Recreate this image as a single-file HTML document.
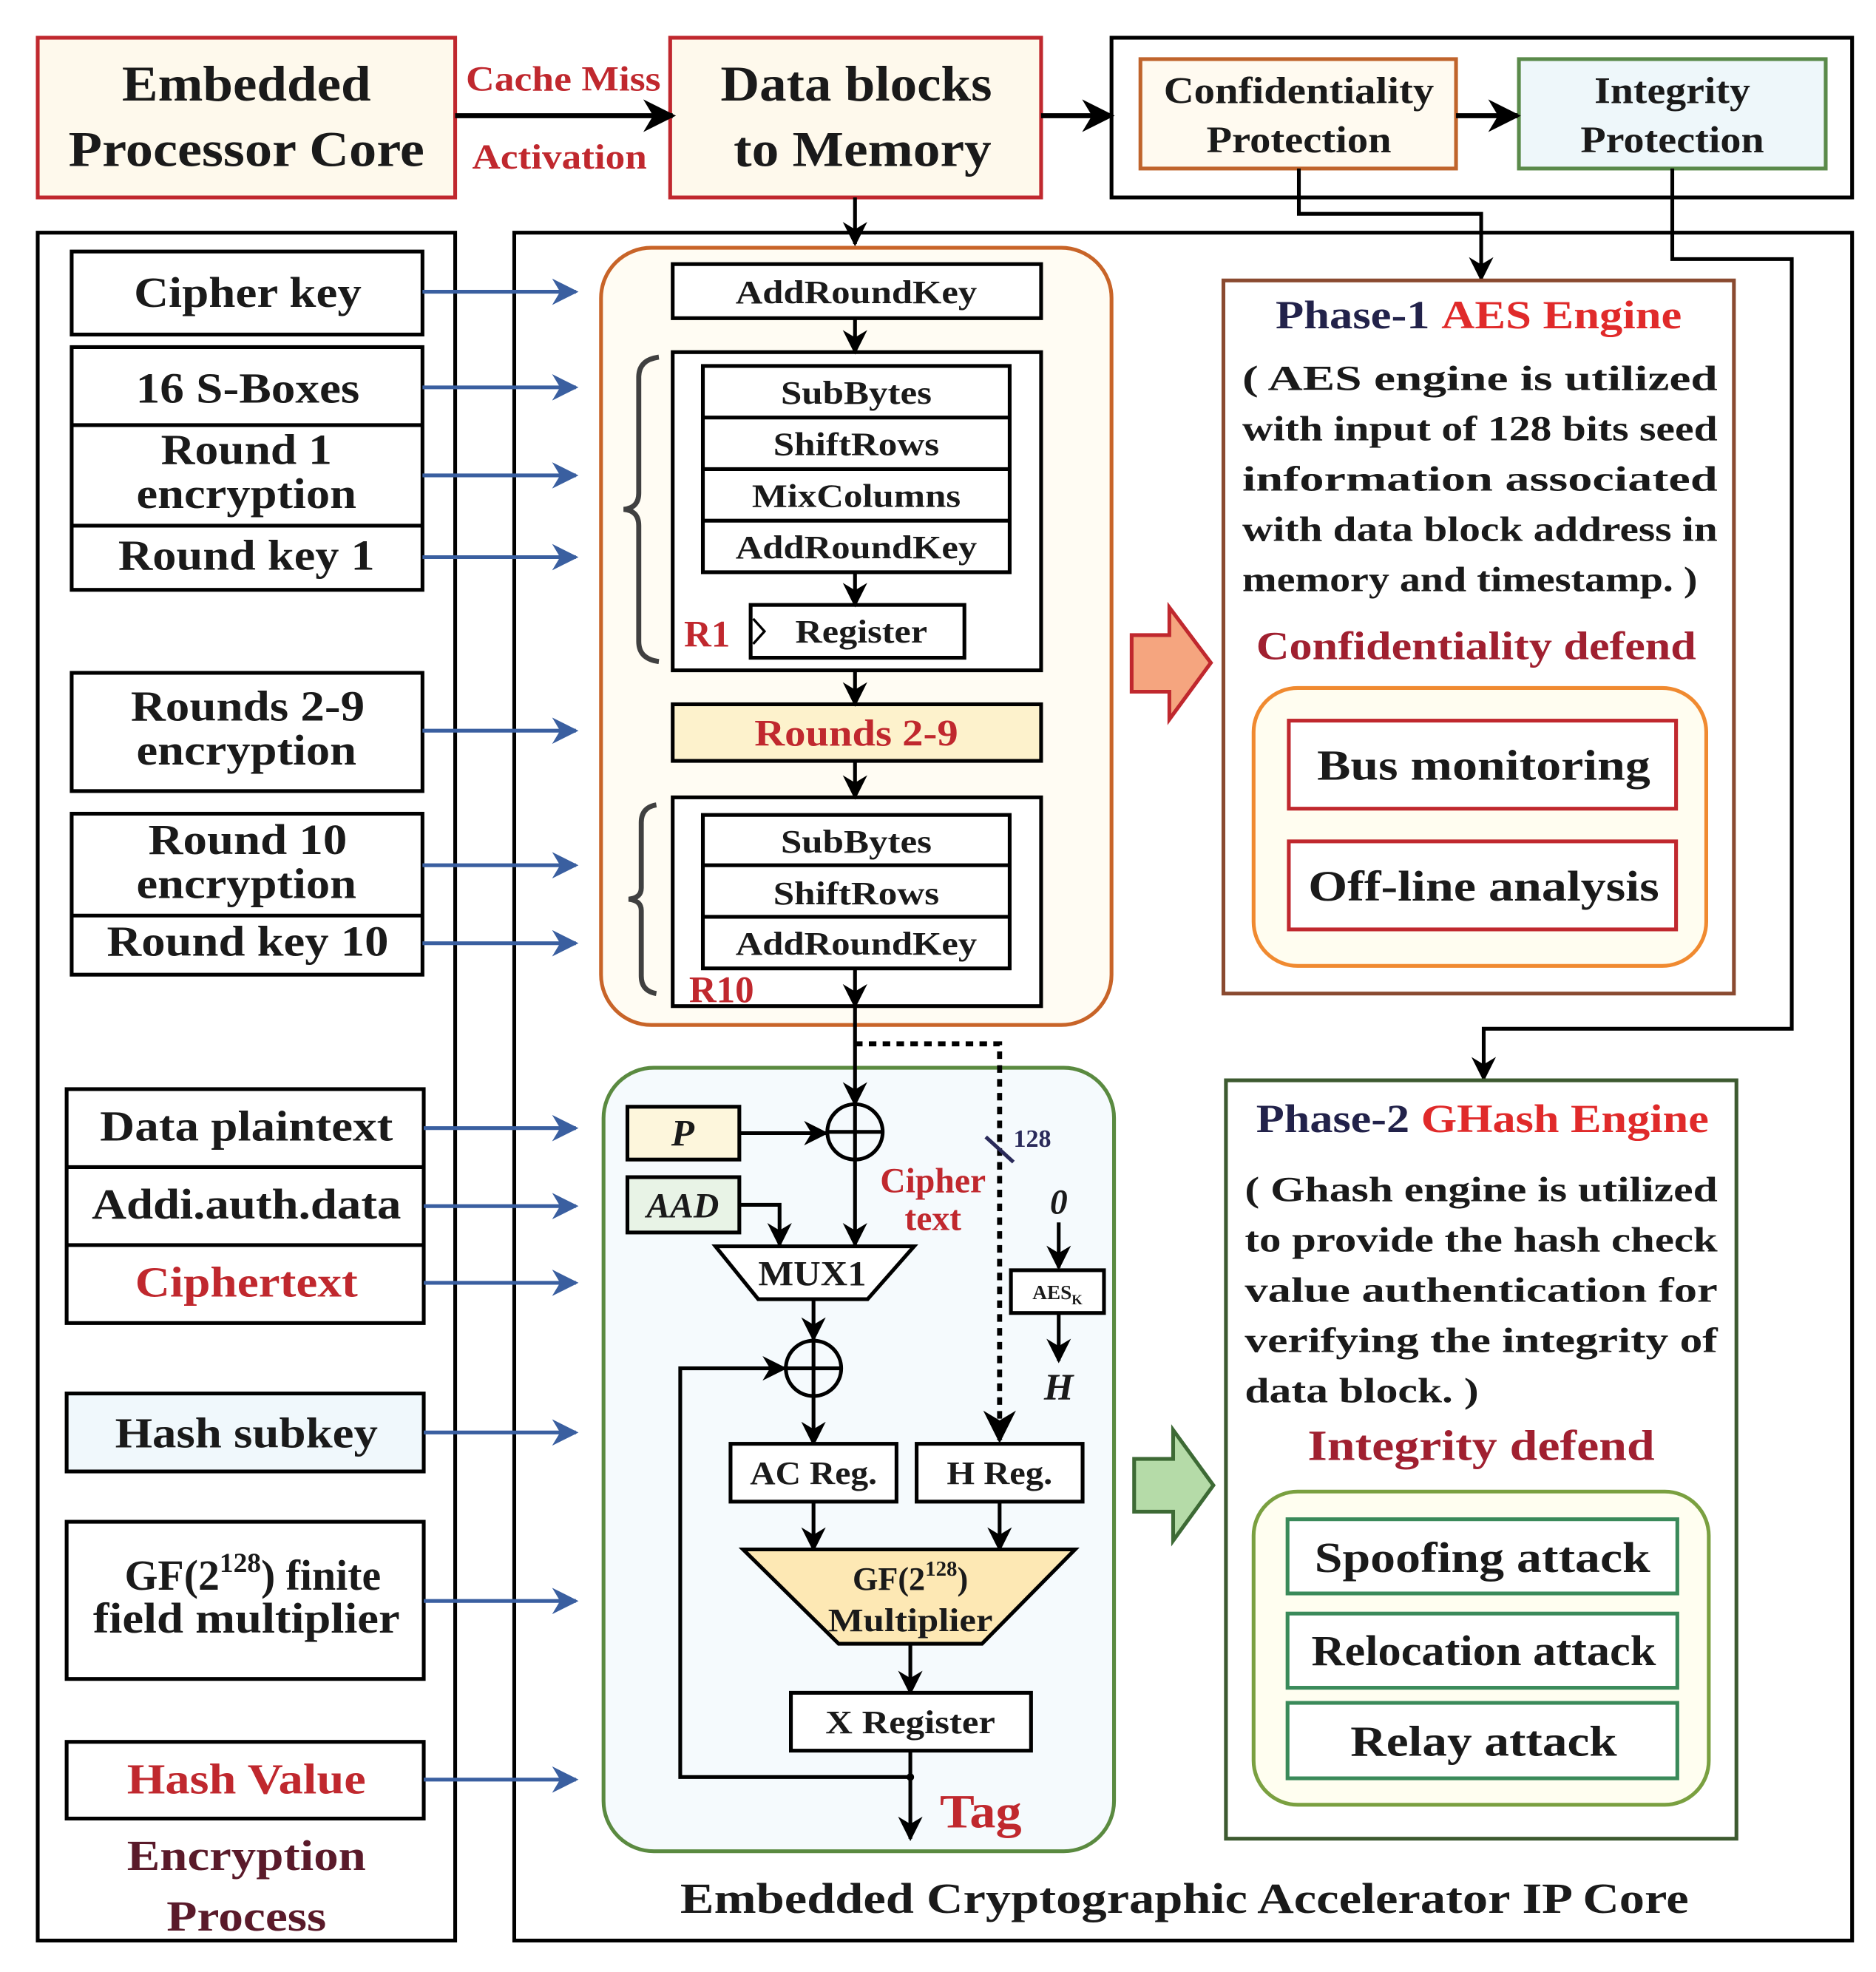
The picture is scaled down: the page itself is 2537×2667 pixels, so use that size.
<!DOCTYPE html>
<html><head><meta charset="utf-8"><style>html,body{margin:0;padding:0;background:#fff}svg{display:block}</style></head><body>
<svg width="2537" height="2667" viewBox="0 0 1492 1568" preserveAspectRatio="none" xmlns="http://www.w3.org/2000/svg" font-family="Liberation Serif, serif" font-weight="bold">
<defs>
<marker id="a" viewBox="0 0 10 10" refX="9" refY="5" markerWidth="6.5" markerHeight="6.5" orient="auto"><path d="M0,0L10,5L0,10L3,5z" fill="#000"/></marker>
<marker id="b" viewBox="0 0 10 10" refX="9" refY="5" markerWidth="7" markerHeight="7" orient="auto"><path d="M0,0L10,5L0,10L3,5z" fill="#3a5fa0"/></marker>
</defs>
<g fill="none" stroke="#000" stroke-width="3">
<rect x="884" y="30" width="589" height="127"/>
<rect x="30" y="185" width="332" height="1358"/>
<rect x="409" y="185" width="1064" height="1358"/>
</g>
<rect x="30" y="30" width="332" height="127" fill="#fef9ec" stroke="#c0282e" stroke-width="3"/>
<rect x="533" y="30" width="295" height="127" fill="#fef9ec" stroke="#c0282e" stroke-width="3"/>
<rect x="907" y="47" width="251" height="87" fill="#fffaf0" stroke="#c0642c" stroke-width="3"/>
<rect x="1208" y="47" width="244" height="87" fill="#eef7fa" stroke="#5a8a4a" stroke-width="3"/>
<g font-size="40" text-anchor="middle" fill="#1a1a1a">
<text x="196" y="80" textLength="198" lengthAdjust="spacingAndGlyphs">Embedded</text><text x="196" y="132" textLength="283" lengthAdjust="spacingAndGlyphs">Processor Core</text>
<text x="681" y="80" textLength="216" lengthAdjust="spacingAndGlyphs">Data blocks</text><text x="686" y="132" textLength="205" lengthAdjust="spacingAndGlyphs">to Memory</text>
</g>
<g font-size="30" text-anchor="middle" fill="#1a1a1a">
<text x="1033" y="82" textLength="215" lengthAdjust="spacingAndGlyphs">Confidentiality</text><text x="1033" y="121" textLength="147" lengthAdjust="spacingAndGlyphs">Protection</text>
<text x="1330" y="82" textLength="124" lengthAdjust="spacingAndGlyphs">Integrity</text><text x="1330" y="121" textLength="146" lengthAdjust="spacingAndGlyphs">Protection</text>
</g>
<g font-size="28" text-anchor="middle" fill="#c0282e"><text x="448" y="72" textLength="155" lengthAdjust="spacingAndGlyphs">Cache Miss</text><text x="445" y="134" textLength="139" lengthAdjust="spacingAndGlyphs">Activation</text></g>
<g stroke="#000" stroke-width="4" fill="none" marker-end="url(#a)">
<line x1="362" y1="92" x2="535" y2="92"/><line x1="828" y1="92" x2="884" y2="92"/><line x1="1158" y1="92" x2="1207" y2="92"/>
</g>
<g stroke="#000" stroke-width="3" fill="none" marker-end="url(#a)">
<line x1="680" y1="157" x2="680" y2="194"/>
<polyline points="1033,134 1033,170 1178,170 1178,222"/>
<polyline points="1330,134 1330,206 1425,206 1425,818 1180,818 1180,858"/>
</g>
<g fill="none" stroke="#000" stroke-width="3">
<rect x="57" y="200" width="279" height="66"/>
<rect x="57" y="276" width="279" height="193"/><line x1="57" y1="338" x2="336" y2="338"/><line x1="57" y1="418" x2="336" y2="418"/>
<rect x="57" y="535" width="279" height="94"/>
<rect x="57" y="647" width="279" height="128"/><line x1="57" y1="728" x2="336" y2="728"/>
<rect x="53" y="866" width="284" height="186"/><line x1="53" y1="928" x2="337" y2="928"/><line x1="53" y1="990" x2="337" y2="990"/>
<rect x="53" y="1108" width="284" height="62" fill="#f0f8fc"/>
<rect x="53" y="1210" width="284" height="125"/>
<rect x="53" y="1385" width="284" height="61"/>
</g>
<g font-size="34" text-anchor="middle" fill="#1a1a1a">
<text x="197" y="244" textLength="181" lengthAdjust="spacingAndGlyphs">Cipher key</text>
<text x="197" y="320" textLength="178" lengthAdjust="spacingAndGlyphs">16 S-Boxes</text>
<text x="196" y="369" textLength="136" lengthAdjust="spacingAndGlyphs">Round 1</text><text x="196" y="404" textLength="175" lengthAdjust="spacingAndGlyphs">encryption</text>
<text x="196" y="453" textLength="204" lengthAdjust="spacingAndGlyphs">Round key 1</text>
<text x="197" y="573" textLength="186" lengthAdjust="spacingAndGlyphs">Rounds 2-9</text><text x="196" y="608" textLength="175" lengthAdjust="spacingAndGlyphs">encryption</text>
<text x="197" y="679" textLength="158" lengthAdjust="spacingAndGlyphs">Round 10</text><text x="196" y="714" textLength="175" lengthAdjust="spacingAndGlyphs">encryption</text>
<text x="197" y="760" textLength="224" lengthAdjust="spacingAndGlyphs">Round key 10</text>
<text x="196" y="907" textLength="233" lengthAdjust="spacingAndGlyphs">Data plaintext</text>
<text x="196" y="969" textLength="246" lengthAdjust="spacingAndGlyphs">Addi.auth.data</text>
<text x="196" y="1031" fill="#c0282e" textLength="177" lengthAdjust="spacingAndGlyphs">Ciphertext</text>
<text x="196" y="1151" textLength="209" lengthAdjust="spacingAndGlyphs">Hash subkey</text>
<text x="201" y="1264">GF(2<tspan font-size="22" dy="-14">128</tspan><tspan dy="14">) finite</tspan></text>
<text x="196" y="1298" textLength="244" lengthAdjust="spacingAndGlyphs">field multiplier</text>
<text x="196" y="1426" fill="#c0282e" textLength="190" lengthAdjust="spacingAndGlyphs">Hash Value</text>
<text x="196" y="1487" fill="#5a1a2a" textLength="190" lengthAdjust="spacingAndGlyphs">Encryption</text>
<text x="196" y="1535" fill="#5a1a2a" textLength="127" lengthAdjust="spacingAndGlyphs">Process</text>
</g>
<g stroke="#3a5fa0" stroke-width="3" marker-end="url(#b)">
<line x1="336" y1="232" x2="458" y2="232"/><line x1="336" y1="308" x2="458" y2="308"/><line x1="336" y1="378" x2="458" y2="378"/><line x1="336" y1="443" x2="458" y2="443"/>
<line x1="336" y1="581" x2="458" y2="581"/><line x1="336" y1="688" x2="458" y2="688"/><line x1="336" y1="750" x2="458" y2="750"/>
<line x1="337" y1="897" x2="458" y2="897"/><line x1="337" y1="959" x2="458" y2="959"/><line x1="337" y1="1020" x2="458" y2="1020"/>
<line x1="337" y1="1139" x2="458" y2="1139"/><line x1="337" y1="1273" x2="458" y2="1273"/><line x1="337" y1="1415" x2="458" y2="1415"/>
</g>
<rect x="478" y="197" width="406" height="618" rx="40" fill="#fffcf3" stroke="#c86428" stroke-width="3"/>
<g fill="#fff" stroke="#000" stroke-width="3">
<rect x="535" y="210" width="293" height="43"/>
<rect x="535" y="280" width="293" height="253"/>
<rect x="559" y="291" width="244" height="164"/>
<rect x="597" y="481" width="170" height="42"/>
<rect x="535" y="560" width="293" height="45" fill="#fdf2cc"/>
<rect x="535" y="634" width="293" height="166"/>
<rect x="559" y="648" width="244" height="122"/>
</g>
<g stroke="#000" stroke-width="3"><line x1="559" y1="332" x2="803" y2="332"/><line x1="559" y1="373" x2="803" y2="373"/><line x1="559" y1="414" x2="803" y2="414"/><line x1="559" y1="688" x2="803" y2="688"/><line x1="559" y1="729" x2="803" y2="729"/></g>
<path d="M599,492 L608,502 L599,512" fill="none" stroke="#000" stroke-width="2"/>
<g font-size="26" text-anchor="middle" fill="#1a1a1a">
<text x="681" y="241" textLength="192" lengthAdjust="spacingAndGlyphs">AddRoundKey</text>
<text x="681" y="321" textLength="120" lengthAdjust="spacingAndGlyphs">SubBytes</text><text x="681" y="362" textLength="132" lengthAdjust="spacingAndGlyphs">ShiftRows</text><text x="681" y="403" textLength="166" lengthAdjust="spacingAndGlyphs">MixColumns</text><text x="681" y="444" textLength="192" lengthAdjust="spacingAndGlyphs">AddRoundKey</text>
<text x="685" y="511" textLength="105" lengthAdjust="spacingAndGlyphs">Register</text>
<text x="681" y="678" textLength="120" lengthAdjust="spacingAndGlyphs">SubBytes</text><text x="681" y="719" textLength="132" lengthAdjust="spacingAndGlyphs">ShiftRows</text><text x="681" y="759" textLength="192" lengthAdjust="spacingAndGlyphs">AddRoundKey</text>
</g>
<text x="681" y="593" font-size="30" text-anchor="middle" fill="#c0282e" textLength="162" lengthAdjust="spacingAndGlyphs">Rounds 2-9</text>
<text x="544" y="514" font-size="30" fill="#c0282e">R1</text>
<text x="548" y="797" font-size="30" fill="#c0282e">R10</text>
<g fill="none" stroke="#404040" stroke-width="4">
<path d="M524,284 Q508,286 508,300 L508,392 Q508,404 496,405 Q508,406 508,418 L508,510 Q508,524 524,526"/>
<path d="M522,640 Q510,642 510,654 L510,706 Q510,714 500,715 Q510,716 510,724 L510,776 Q510,788 522,790"/>
</g>
<g stroke="#000" stroke-width="3" marker-end="url(#a)">
<line x1="680" y1="253" x2="680" y2="280"/><line x1="680" y1="455" x2="680" y2="481"/><line x1="680" y1="533" x2="680" y2="560"/><line x1="680" y1="605" x2="680" y2="634"/><line x1="680" y1="770" x2="680" y2="800"/>
</g>
<rect x="480" y="849" width="406" height="623" rx="40" fill="#f5fafd" stroke="#5a8a40" stroke-width="3"/>
<line x1="680" y1="800" x2="680" y2="878" stroke="#000" stroke-width="3" marker-end="url(#a)"/>
<polyline points="680,830 795,830 795,1145" fill="none" stroke="#000" stroke-width="4" stroke-dasharray="6,5" marker-end="url(#a)"/>
<line x1="784" y1="904" x2="806" y2="924" stroke="#2a2a5a" stroke-width="3"/>
<text x="806" y="912" font-size="20" fill="#2a2a5a">128</text>
<rect x="499" y="880" width="89" height="42" fill="#fdf6dc" stroke="#000" stroke-width="3"/>
<rect x="499" y="936" width="89" height="44" fill="#e8f3e6" stroke="#000" stroke-width="3"/>
<text x="543" y="911" font-size="30" font-style="italic" text-anchor="middle" fill="#1a1a1a">P</text>
<text x="543" y="968" font-size="28" font-style="italic" text-anchor="middle" fill="#1a1a1a">AAD</text>
<circle cx="680" cy="900" r="22" fill="none" stroke="#000" stroke-width="3"/>
<circle cx="647" cy="1088" r="22" fill="none" stroke="#000" stroke-width="3"/>
<g stroke="#000" stroke-width="3"><line x1="658" y1="900" x2="702" y2="900"/><line x1="625" y1="1088" x2="669" y2="1088"/><line x1="647" y1="1066" x2="647" y2="1110"/></g>
<g stroke="#000" stroke-width="3" fill="none" marker-end="url(#a)">
<line x1="588" y1="901" x2="657" y2="901"/>
<line x1="680" y1="878" x2="680" y2="990"/>
<polyline points="588,958 620,958 620,990"/>
<line x1="647" y1="1033" x2="647" y2="1065"/>
<line x1="647" y1="1110" x2="647" y2="1148"/>
<polyline points="724,1413 541,1413 541,1088 624,1088"/>
<line x1="647" y1="1194" x2="647" y2="1232"/>
<line x1="795" y1="1194" x2="795" y2="1232"/>
<line x1="724" y1="1307" x2="724" y2="1346"/>
<line x1="724" y1="1392" x2="724" y2="1462"/>
<line x1="842" y1="972" x2="842" y2="1008"/>
<line x1="842" y1="1044" x2="842" y2="1082"/>
</g>
<circle cx="724" cy="1413" r="3" fill="#000"/>
<polygon points="569,991 727,991 690,1033 603,1033" fill="#fff" stroke="#000" stroke-width="3"/>
<text x="646" y="1022" font-size="28" text-anchor="middle" fill="#1a1a1a" textLength="86" lengthAdjust="spacingAndGlyphs">MUX1</text>
<rect x="581" y="1148" width="132" height="46" fill="#fff" stroke="#000" stroke-width="3"/>
<rect x="729" y="1148" width="132" height="46" fill="#fff" stroke="#000" stroke-width="3"/>
<text x="647" y="1180" font-size="26" text-anchor="middle" fill="#1a1a1a" textLength="101" lengthAdjust="spacingAndGlyphs">AC Reg.</text>
<text x="795" y="1180" font-size="26" text-anchor="middle" fill="#1a1a1a" textLength="84" lengthAdjust="spacingAndGlyphs">H Reg.</text>
<polygon points="591,1232 855,1232 781,1307 667,1307" fill="#fde8b4" stroke="#000" stroke-width="3"/>
<text x="724" y="1264" font-size="26" text-anchor="middle" fill="#1a1a1a">GF(2<tspan font-size="17" dy="-11">128</tspan><tspan dy="11">)</tspan></text>
<text x="724" y="1297" font-size="26" text-anchor="middle" fill="#1a1a1a" textLength="131" lengthAdjust="spacingAndGlyphs">Multiplier</text>
<rect x="629" y="1346" width="191" height="46" fill="#fff" stroke="#000" stroke-width="3"/>
<text x="724" y="1378" font-size="26" text-anchor="middle" fill="#1a1a1a" textLength="135" lengthAdjust="spacingAndGlyphs">X Register</text>
<text x="780" y="1453" font-size="38" text-anchor="middle" fill="#c0282e" textLength="65" lengthAdjust="spacingAndGlyphs">Tag</text>
<text x="742" y="948" font-size="28" text-anchor="middle" fill="#c0282e">Cipher</text>
<text x="742" y="978" font-size="28" text-anchor="middle" fill="#c0282e">text</text>
<text x="842" y="965" font-size="28" font-style="italic" text-anchor="middle" fill="#1a1a1a">0</text>
<rect x="804" y="1010" width="74" height="34" fill="#fff" stroke="#000" stroke-width="3"/>
<text x="841" y="1033" font-size="16" text-anchor="middle" fill="#1a1a1a">AES<tspan font-size="11" dy="4">K</tspan></text>
<text x="842" y="1113" font-size="30" font-style="italic" text-anchor="middle" fill="#1a1a1a">H</text>
<polygon points="900,505 930,505 930,483 963,527 930,572 930,550 900,550" fill="#f5a57f" stroke="#c0282e" stroke-width="3"/>
<polygon points="902,1160 933,1160 933,1137 965,1181 933,1225 933,1202 902,1202" fill="#b5dba8" stroke="#3d6a35" stroke-width="3"/>
<rect x="973" y="223" width="406" height="567" fill="#fff" stroke="#8a4a30" stroke-width="3"/>
<text x="1176" y="261" font-size="32" text-anchor="middle" textLength="323" lengthAdjust="spacingAndGlyphs"><tspan fill="#22224a">Phase-1 </tspan><tspan fill="#e02a2a">AES Engine</tspan></text>
<g font-size="28" fill="#1a1a1a">
<text x="988" y="310" textLength="378" lengthAdjust="spacingAndGlyphs">( AES engine is utilized</text>
<text x="988" y="350" textLength="378" lengthAdjust="spacingAndGlyphs">with input of 128 bits seed</text>
<text x="988" y="390" textLength="378" lengthAdjust="spacingAndGlyphs">information associated</text>
<text x="988" y="430" textLength="378" lengthAdjust="spacingAndGlyphs">with data block address in</text>
<text x="988" y="470" textLength="362" lengthAdjust="spacingAndGlyphs">memory and timestamp. )</text>
</g>
<text x="1174" y="524" font-size="32" text-anchor="middle" fill="#a02030" textLength="350" lengthAdjust="spacingAndGlyphs">Confidentiality defend</text>
<rect x="997" y="547" width="360" height="221" rx="35" fill="#fffdf0" stroke="#f08a30" stroke-width="3"/>
<rect x="1025" y="573" width="308" height="70" fill="#fff" stroke="#c0282e" stroke-width="3"/>
<rect x="1025" y="669" width="308" height="70" fill="#fff" stroke="#c0282e" stroke-width="3"/>
<text x="1180" y="620" font-size="34" text-anchor="middle" fill="#1a1a1a" textLength="265" lengthAdjust="spacingAndGlyphs">Bus monitoring</text>
<text x="1180" y="716" font-size="34" text-anchor="middle" fill="#1a1a1a" textLength="279" lengthAdjust="spacingAndGlyphs">Off-line analysis</text>
<rect x="975" y="859" width="406" height="603" fill="#fff" stroke="#3d5a30" stroke-width="3"/>
<text x="1179" y="900" font-size="32" text-anchor="middle" textLength="360" lengthAdjust="spacingAndGlyphs"><tspan fill="#22224a">Phase-2 </tspan><tspan fill="#e02a2a">GHash Engine</tspan></text>
<g font-size="28" fill="#1a1a1a">
<text x="990" y="955" textLength="376" lengthAdjust="spacingAndGlyphs">( Ghash engine is utilized</text>
<text x="990" y="995" textLength="376" lengthAdjust="spacingAndGlyphs">to provide the hash check</text>
<text x="990" y="1035" textLength="376" lengthAdjust="spacingAndGlyphs">value authentication for</text>
<text x="990" y="1075" textLength="376" lengthAdjust="spacingAndGlyphs">verifying the integrity of</text>
<text x="990" y="1115" textLength="186" lengthAdjust="spacingAndGlyphs">data block. )</text>
</g>
<text x="1178" y="1161" font-size="34" text-anchor="middle" fill="#a02030" textLength="276" lengthAdjust="spacingAndGlyphs">Integrity defend</text>
<rect x="997" y="1186" width="362" height="249" rx="35" fill="#fffef0" stroke="#7aa040" stroke-width="3"/>
<g fill="#fff" stroke="#3a8a5a" stroke-width="3">
<rect x="1024" y="1208" width="310" height="59"/><rect x="1024" y="1283" width="310" height="59"/><rect x="1024" y="1354" width="310" height="60"/>
</g>
<g font-size="34" text-anchor="middle" fill="#1a1a1a">
<text x="1179" y="1250" textLength="267" lengthAdjust="spacingAndGlyphs">Spoofing attack</text><text x="1180" y="1324" textLength="274" lengthAdjust="spacingAndGlyphs">Relocation attack</text><text x="1180" y="1396" textLength="212" lengthAdjust="spacingAndGlyphs">Relay attack</text>
</g>
<text x="942" y="1521" font-size="34" text-anchor="middle" fill="#1a1a1a" textLength="802" lengthAdjust="spacingAndGlyphs">Embedded Cryptographic Accelerator IP Core</text>
</svg>
</body></html>
